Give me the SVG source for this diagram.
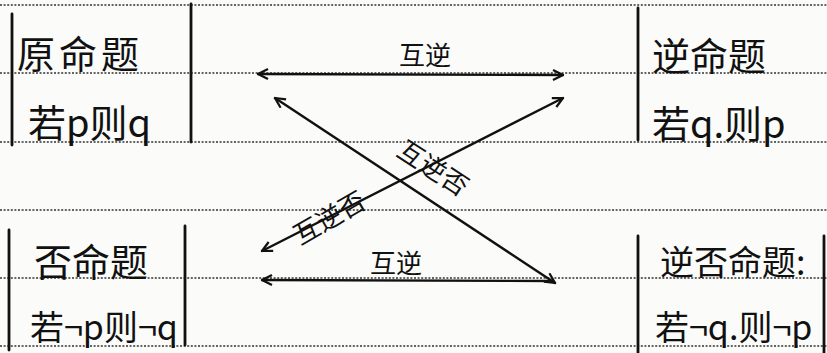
<svg xmlns="http://www.w3.org/2000/svg" width="827" height="353" viewBox="0 0 827 353">
<defs>
<style>
.rule{stroke:#333;stroke-width:1.7;stroke-dasharray:2 1.6;fill:none}
.bar{stroke:#111;stroke-width:2.8;fill:none;stroke-linecap:round}
.t{font-family:"Noto Sans CJK SC","Noto Sans",sans-serif;fill:#111;font-size:38px}
.s{font-size:34px}
.lbl{font-family:"Noto Sans CJK SC","Noto Sans",sans-serif;fill:#111;font-size:26px}
.c{stroke:#111;stroke-width:2.4;fill:none;stroke-linecap:round}
</style>
<marker id="ah" viewBox="0 0 12 12" refX="11" refY="6" markerWidth="12" markerHeight="12" markerUnits="userSpaceOnUse" orient="auto-start-reverse">
<path d="M1,1 L11,6 L1,11" fill="none" stroke="#111" stroke-width="2.2"/>
</marker>
</defs>
<rect width="827" height="353" fill="#fbfbfa"/>
<g id="rules">
<line class="rule" x1="0" y1="5" x2="827" y2="5"/>
<line class="rule" x1="0" y1="73" x2="827" y2="73"/>
<line class="rule" x1="0" y1="142" x2="827" y2="142"/>
<line class="rule" x1="0" y1="210" x2="827" y2="210"/>
<line class="rule" x1="0" y1="278" x2="827" y2="278"/>
<line class="rule" x1="0" y1="346" x2="827" y2="346"/>
</g>
<g id="original">
<line class="bar" x1="12" y1="14" x2="12" y2="145"/>
<line class="bar" x1="191" y1="4" x2="191" y2="142"/>
<text class="t" x="17" y="68" letter-spacing="4">原命题</text>
<text class="t" x="28" y="137">若p则q</text>
</g>
<g id="converse">
<line class="bar" x1="638" y1="8" x2="638" y2="140"/>
<text class="t" x="652" y="70">逆命题</text>
<text class="t" x="652" y="138">若q.则p</text>
</g>
<g id="inverse">
<line class="bar" x1="9" y1="230" x2="9" y2="350"/>
<line class="bar" x1="185" y1="226" x2="185" y2="345"/>
<text class="t" x="34" y="276">否命题</text>
<text class="t s" x="30" y="340">若¬p则¬q</text>
</g>
<g id="contrapositive">
<line class="bar" x1="638" y1="236" x2="638" y2="353"/>
<line class="bar" x1="824" y1="236" x2="824" y2="353"/>
<text class="t s" x="660" y="275">逆否命题:</text>
<text class="t s" x="655" y="340">若¬q.则¬p</text>
</g>
<g id="connectors">
<line class="c" x1="258" y1="74" x2="563" y2="75" marker-start="url(#ah)" marker-end="url(#ah)"/>
<line class="c" x1="555" y1="283" x2="275" y2="98" marker-end="url(#ah)" marker-start="url(#ah)"/>
<line class="c" x1="262" y1="251" x2="563" y2="98" marker-start="url(#ah)" marker-end="url(#ah)"/>
<line class="c" x1="262" y1="280" x2="552" y2="281" marker-start="url(#ah)"/>
<text class="lbl" x="425" y="65" text-anchor="middle">互逆</text>
<text class="lbl" x="396" y="273" text-anchor="middle">互逆</text>
<text class="lbl" x="428" y="176" text-anchor="middle" transform="rotate(33 428 176)">互逆否</text>
<text class="lbl" x="334" y="226" text-anchor="middle" transform="rotate(-30 334 226)">互逆否</text>
</g>
</svg>
